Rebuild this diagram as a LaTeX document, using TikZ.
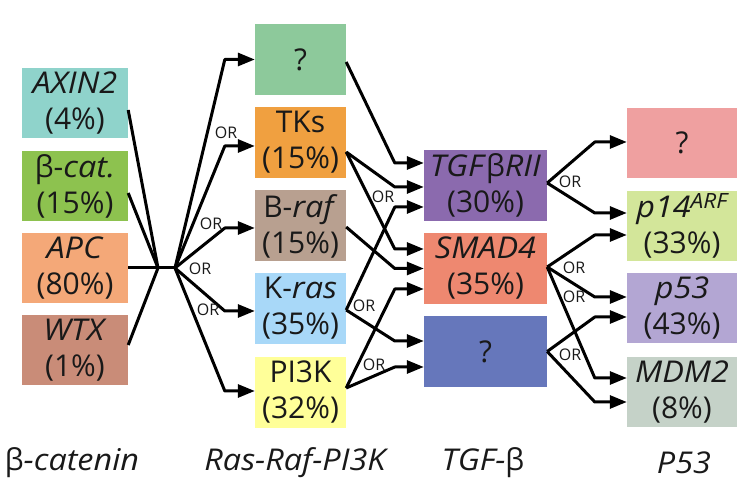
\documentclass[tikz,border=0pt]{standalone}
\usepackage{fontspec}
\setmainfont{Open Sans}[ItalicFeatures={FakeStretch=1.08}]
\usetikzlibrary{arrows.meta}
\definecolor{cAxin}{HTML}{8FD3CB}
\definecolor{cBcat}{HTML}{8DC24F}
\definecolor{cApc}{HTML}{F4A878}
\definecolor{cWtx}{HTML}{C98C78}
\definecolor{cQa}{HTML}{8DC99B}
\definecolor{cTks}{HTML}{F0A040}
\definecolor{cBraf}{HTML}{B8A090}
\definecolor{cKras}{HTML}{A8D8F8}
\definecolor{cPik}{HTML}{FFFF99}
\definecolor{cTgf}{HTML}{8B6AAE}
\definecolor{cSmad}{HTML}{EE8870}
\definecolor{cQb}{HTML}{6677BB}
\definecolor{cQc}{HTML}{EFA0A0}
\definecolor{cPf}{HTML}{D3E69A}
\definecolor{cPt}{HTML}{B3A6D3}
\definecolor{cMdm}{HTML}{C5D2C8}
\begin{document}
\begin{tikzpicture}[x=1pt,y=-1pt,
  box/.style={rectangle, inner sep=0pt, align=center, text=black!90, font=\fontsize{30}{36}\selectfont},
  lbox/.style={box, minimum width=106pt, minimum height=70pt},
  mbox/.style={box, minimum width=91pt, minimum height=71pt},
  tbox/.style={box, minimum width=123pt, minimum height=71pt},
  rbox/.style={box, minimum width=110pt, minimum height=70pt},
  ln/.style={line width=3pt, line join=round},
  arr/.style={ln, -{Triangle[length=17pt,width=13pt]}},
  orl/.style={font=\fontsize{16}{16}\selectfont, inner sep=0pt, text=black!90},
  capl/.style={font=\fontsize{30}{35}\selectfont\itshape, inner sep=0pt, text=black!90}]
\useasboundingbox (0,0) rectangle (756,494);
% left column
\node[lbox, fill=cAxin] (axin) at (75,103) {\textit{AXIN2}\\(4\%)};
\node[lbox, fill=cBcat] (bcat) at (75,186) {β-\textit{cat.}\\(15\%)};
\node[lbox, fill=cApc] (apc) at (75,268) {\textit{APC}\\(80\%)};
\node[lbox, fill=cWtx] (wtx) at (75,350) {\textit{WTX}\\(1\%)};
% middle column
\node[mbox, fill=cQa] (qa) at (300.5,59.5) {?};
\node[mbox, fill=cTks] (tks) at (300.5,142.5) {TKs\\(15\%)};
\node[mbox, fill=cBraf] (braf) at (300.5,226) {B-\textit{raf}\\(15\%)};
\node[mbox, fill=cKras] (kras) at (300.5,308.5) {K-\textit{ras}\\(35\%)};
\node[mbox, fill=cPik] (pik) at (300.5,392.5) {PI3K\\(32\%)};
% third column
\node[tbox, fill=cTgf] (tgf) at (485.5,185.5) {\textit{TGF}β\textit{RII}\\(30\%)};
\node[tbox, fill=cSmad] (smad) at (485.5,268.5) {\textit{SMAD4}\\(35\%)};
\node[tbox, fill=cQb] (qb) at (485.5,351.5) {?};
% right column
\node[rbox, fill=cQc] (qc) at (682,143) {?};
\node[rbox, fill=cPf] (pf) at (682,226) {\textit{p14\textsuperscript{ARF}}\\(33\%)};
\node[rbox, fill=cPt] (pt) at (682,308.5) {\textit{p53}\\(43\%)};
\node[rbox, fill=cMdm] (mdm) at (682,392) {\textit{MDM2}\\(8\%)};
% bottom labels
\node[capl] (l1) at (72,463) {{\upshape β}-catenin};
\node[capl] (l2) at (295,463) {Ras-Raf-PI3K};
\node[capl] (l3) at (483,463) {TGF-{\upshape β}};
\node[capl] (l4) at (684,463) {P53};
% left convergence
\coordinate (j1) at (158,268);
\coordinate (j2) at (175,268);
\draw[ln] ([yshift=-7pt]axin.east) -- (j1);
\draw[ln] ([yshift=-7pt]bcat.east) -- (j1);
\draw[ln] ([yshift=5pt]wtx.east) -- (j1);
\draw[ln] (apc.east) -- (j1) -- (j2);
% fan out
\draw[arr] (j2) -- ([xshift=-30pt]qa.west) -- (qa.west);
\draw[arr] (j2) -- ([xshift=-30pt,yshift=-3.5pt]tks.west) -- ([yshift=-3.5pt]tks.west);
\draw[arr] (j2) -- ([xshift=-30pt,yshift=-2pt]braf.west) -- ([yshift=-2pt]braf.west);
\draw[arr] (j2) -- ([xshift=-30pt,yshift=-2.5pt]kras.west) -- ([yshift=-2.5pt]kras.west);
\draw[arr] (j2) -- ([xshift=-30pt,yshift=1.5pt]pik.west) -- ([yshift=1.5pt]pik.west);
\node[orl] (or1) at (226,133) {OR};
\node[orl] (or2) at (211,224) {OR};
\node[orl] (or3) at (200,269) {OR};
\node[orl] (or4) at (208,310) {OR};
% middle to third
\draw[arr] ([yshift=-2.5pt]qa.east) -- ([xshift=-29pt,yshift=22.5pt]tgf.west) -- ([yshift=22.5pt]tgf.west);
\draw[arr] ([yshift=-9.5pt]tks.east) -- ([xshift=-29pt,yshift=-1.5pt]tgf.west) -- ([yshift=-1.5pt]tgf.west);
\draw[arr] ([yshift=-9.5pt]tks.east) -- ([xshift=-29pt,yshift=19.5pt]smad.west) -- ([yshift=19.5pt]smad.west);
\draw[arr] ([yshift=-1pt]braf.east) -- ([xshift=-29pt]smad.west) -- (smad.west);
\draw[arr] ([yshift=-1.5pt]kras.east) -- ([xshift=-29pt,yshift=-21.5pt]tgf.west) -- ([yshift=-21.5pt]tgf.west);
\draw[arr] ([yshift=-1.5pt]kras.east) -- ([xshift=-29pt,yshift=10.5pt]qb.west) -- ([yshift=10.5pt]qb.west);
\draw[arr] ([yshift=4.5pt]pik.east) -- ([xshift=-29pt,yshift=-20.5pt]smad.west) -- ([yshift=-20.5pt]smad.west);
\draw[arr] ([yshift=4.5pt]pik.east) -- ([xshift=-29pt,yshift=-15.5pt]qb.west) -- ([yshift=-15.5pt]qb.west);
\node[orl] (or5) at (383,197) {OR};
\node[orl] (or6) at (364,306) {OR};
\node[orl] (or7) at (374,365) {OR};
% third to right
\draw[arr] ([yshift=2.5pt]tgf.east) -- ([xshift=-32pt,yshift=1pt]qc.west) -- ([yshift=1pt]qc.west);
\draw[arr] ([yshift=2.5pt]tgf.east) -- ([xshift=-32pt,yshift=13pt]pf.west) -- ([yshift=13pt]pf.west);
\draw[arr] ([yshift=1.5pt]smad.east) -- ([xshift=-32pt,yshift=-9pt]pf.west) -- ([yshift=-9pt]pf.west);
\draw[arr] ([yshift=1.5pt]smad.east) -- ([xshift=-32pt,yshift=11.5pt]pt.west) -- ([yshift=11.5pt]pt.west);
\draw[arr] ([yshift=1.5pt]smad.east) -- ([xshift=-32pt,yshift=14pt]mdm.west) -- ([yshift=14pt]mdm.west);
\draw[arr] (qb.east) -- ([xshift=-32pt,yshift=-8.5pt]pt.west) -- ([yshift=-8.5pt]pt.west);
\draw[arr] (qb.east) -- ([xshift=-32pt,yshift=-10pt]mdm.west) -- ([yshift=-10pt]mdm.west);
\node[orl] (or8) at (570,182) {OR};
\node[orl] (or9) at (574,268) {OR};
\node[orl] (or10) at (574,297) {OR};
\node[orl] (or11) at (570,355) {OR};
\end{tikzpicture}
\end{document}
